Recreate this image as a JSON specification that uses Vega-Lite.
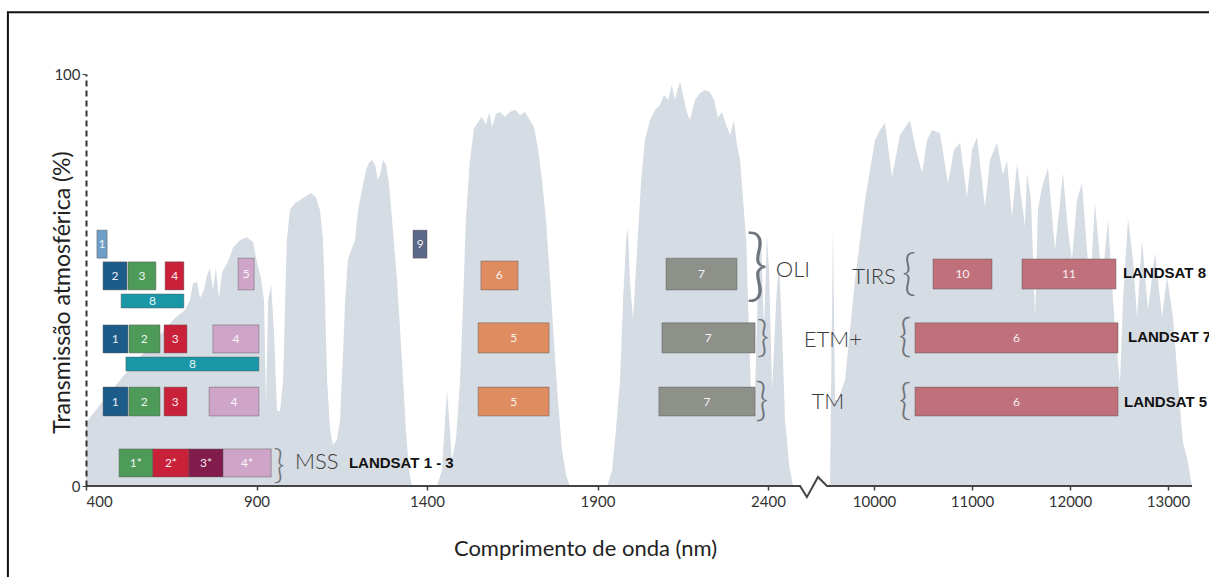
{
  "$schema": "https://vega.github.io/schema/vega-lite/v6.json",
  "width": 1111,
  "height": 412,
  "autosize": {"type": "none"},
  "padding": {"left": 86, "top": 74, "right": 12, "bottom": 91},
  "background": "white",
  "config": {"view": {"stroke": null}, "font": "Lato", "axis": {"grid": false}},
  "datasets": {
    "frame": [{"x0": 171, "x1": 13500, "y0": -25, "y1": 115}],
    "curve": [
      {"nm":400,"pct":15.3},{"nm":441,"pct":19.7},{"nm":500,"pct":25.7},{"nm":558,"pct":31.3},{"nm":617,"pct":36.7},{"nm":661,"pct":40.8},{"nm":690,"pct":42.7},{"nm":705,"pct":45.1},{"nm":714,"pct":49.3},{"nm":726,"pct":49.5},{"nm":734,"pct":45.6},{"nm":746,"pct":47.6},{"nm":755,"pct":51.2},{"nm":764,"pct":52.9},{"nm":772,"pct":47.6},{"nm":781,"pct":52.9},{"nm":790,"pct":45.6},{"nm":799,"pct":51.9},{"nm":816,"pct":54.4},{"nm":831,"pct":57.8},{"nm":852,"pct":59.7},{"nm":872,"pct":60.4},{"nm":890,"pct":59.2},{"nm":901,"pct":54.4},{"nm":913,"pct":50.5},{"nm":922,"pct":45.1},{"nm":928,"pct":19.7},{"nm":934,"pct":45.1},{"nm":943,"pct":48.8},{"nm":951,"pct":37.9},{"nm":960,"pct":18.4},{"nm":969,"pct":18.0},{"nm":978,"pct":25.7},{"nm":984,"pct":45.1},{"nm":989,"pct":59.7},{"nm":998,"pct":67.0},{"nm":1013,"pct":68.7},{"nm":1028,"pct":69.4},{"nm":1045,"pct":70.4},{"nm":1060,"pct":71.1},{"nm":1074,"pct":70.1},{"nm":1086,"pct":67.0},{"nm":1095,"pct":59.7},{"nm":1101,"pct":45.1},{"nm":1107,"pct":25.7},{"nm":1116,"pct":13.6},{"nm":1124,"pct":10.0},{"nm":1136,"pct":11.2},{"nm":1145,"pct":16.0},{"nm":1154,"pct":33.0},{"nm":1160,"pct":45.1},{"nm":1168,"pct":54.9},{"nm":1180,"pct":57.8},{"nm":1189,"pct":59.7},{"nm":1198,"pct":67.0},{"nm":1209,"pct":71.8},{"nm":1221,"pct":76.7},{"nm":1230,"pct":78.6},{"nm":1239,"pct":79.1},{"nm":1248,"pct":77.9},{"nm":1256,"pct":74.3},{"nm":1262,"pct":75.5},{"nm":1271,"pct":79.1},{"nm":1280,"pct":77.9},{"nm":1289,"pct":73.1},{"nm":1300,"pct":62.1},{"nm":1312,"pct":50.0},{"nm":1321,"pct":37.9},{"nm":1330,"pct":25.7},{"nm":1338,"pct":13.6},{"nm":1347,"pct":3.9},{"nm":1356,"pct":0},
      {"nm":1429,"pct":0},{"nm":1444,"pct":3.9},{"nm":1453,"pct":16.0},{"nm":1459,"pct":23.3},{"nm":1465,"pct":16.0},{"nm":1473,"pct":6.3},{"nm":1485,"pct":11.2},{"nm":1497,"pct":25.7},{"nm":1506,"pct":45.1},{"nm":1514,"pct":64.6},{"nm":1526,"pct":79.1},{"nm":1538,"pct":86.9},{"nm":1550,"pct":88.3},{"nm":1561,"pct":89.6},{"nm":1573,"pct":87.6},{"nm":1582,"pct":90.8},{"nm":1591,"pct":87.1},{"nm":1602,"pct":90.3},{"nm":1614,"pct":90.8},{"nm":1629,"pct":89.6},{"nm":1643,"pct":90.8},{"nm":1658,"pct":91.3},{"nm":1673,"pct":90.0},{"nm":1687,"pct":90.8},{"nm":1702,"pct":88.8},{"nm":1714,"pct":87.1},{"nm":1726,"pct":81.6},{"nm":1737,"pct":74.3},{"nm":1749,"pct":64.6},{"nm":1761,"pct":50.0},{"nm":1772,"pct":35.4},{"nm":1784,"pct":20.9},{"nm":1796,"pct":8.7},{"nm":1808,"pct":2.7},{"nm":1819,"pct":0},
      {"nm":1928,"pct":0},{"nm":1943,"pct":3.9},{"nm":1954,"pct":13.6},{"nm":1966,"pct":25.7},{"nm":1975,"pct":45.1},{"nm":1984,"pct":59.7},{"nm":1989,"pct":62.6},{"nm":1995,"pct":50.0},{"nm":2004,"pct":40.3},{"nm":2016,"pct":57.3},{"nm":2028,"pct":74.3},{"nm":2039,"pct":84.0},{"nm":2054,"pct":88.8},{"nm":2069,"pct":91.3},{"nm":2083,"pct":92.5},{"nm":2095,"pct":94.9},{"nm":2107,"pct":93.7},{"nm":2118,"pct":97.3},{"nm":2127,"pct":93.7},{"nm":2136,"pct":96.6},{"nm":2142,"pct":98.1},{"nm":2151,"pct":94.9},{"nm":2160,"pct":91.3},{"nm":2171,"pct":88.8},{"nm":2186,"pct":93.7},{"nm":2201,"pct":95.4},{"nm":2215,"pct":96.1},{"nm":2230,"pct":95.6},{"nm":2242,"pct":93.7},{"nm":2253,"pct":89.3},{"nm":2265,"pct":90.8},{"nm":2277,"pct":87.6},{"nm":2289,"pct":85.2},{"nm":2300,"pct":88.8},{"nm":2309,"pct":82.8},{"nm":2318,"pct":79.1},{"nm":2327,"pct":69.4},{"nm":2336,"pct":59.7},{"nm":2344,"pct":37.9},{"nm":2353,"pct":16.0},{"nm":2362,"pct":23.3},{"nm":2371,"pct":50.0},{"nm":2380,"pct":59.7},{"nm":2388,"pct":37.9},{"nm":2397,"pct":60.9},{"nm":2403,"pct":52.4},{"nm":2412,"pct":23.3},{"nm":2424,"pct":45.1},{"nm":2432,"pct":54.9},{"nm":2441,"pct":37.9},{"nm":2450,"pct":16.0},{"nm":2462,"pct":5.1},{"nm":2473,"pct":0},
      {"nm":9530,"pct":0},{"nm":9551,"pct":0.5},{"nm":9581,"pct":62.9},{"nm":9602,"pct":20.9},{"nm":9632,"pct":20.9},{"nm":9704,"pct":25.7},{"nm":9755,"pct":37.9},{"nm":9806,"pct":50.0},{"nm":9857,"pct":59.7},{"nm":9908,"pct":69.4},{"nm":9959,"pct":76.7},{"nm":10010,"pct":84.0},{"nm":10061,"pct":86.4},{"nm":10112,"pct":88.1},{"nm":10183,"pct":75.0},{"nm":10265,"pct":85.2},{"nm":10367,"pct":88.8},{"nm":10428,"pct":81.6},{"nm":10490,"pct":76.0},{"nm":10541,"pct":84.0},{"nm":10592,"pct":86.4},{"nm":10673,"pct":85.7},{"nm":10755,"pct":73.5},{"nm":10816,"pct":81.6},{"nm":10878,"pct":83.3},{"nm":10949,"pct":70.1},{"nm":11000,"pct":81.6},{"nm":11051,"pct":84.7},{"nm":11132,"pct":67.7},{"nm":11183,"pct":79.1},{"nm":11255,"pct":83.3},{"nm":11316,"pct":75.5},{"nm":11357,"pct":79.1},{"nm":11408,"pct":65.3},{"nm":11459,"pct":78.4},{"nm":11540,"pct":62.9},{"nm":11561,"pct":76.0},{"nm":11602,"pct":69.4},{"nm":11643,"pct":41.0},{"nm":11673,"pct":67.0},{"nm":11714,"pct":72.6},{"nm":11775,"pct":77.2},{"nm":11847,"pct":57.3},{"nm":11928,"pct":76.0},{"nm":11979,"pct":62.1},{"nm":12020,"pct":54.9},{"nm":12071,"pct":69.4},{"nm":12122,"pct":73.5},{"nm":12204,"pct":47.6},{"nm":12255,"pct":68.7},{"nm":12326,"pct":49.3},{"nm":12388,"pct":64.6},{"nm":12459,"pct":37.9},{"nm":12510,"pct":25.0},{"nm":12541,"pct":45.1},{"nm":12592,"pct":65.0},{"nm":12643,"pct":54.9},{"nm":12684,"pct":41.0},{"nm":12735,"pct":59.7},{"nm":12796,"pct":42.7},{"nm":12867,"pct":56.6},{"nm":12939,"pct":41.0},{"nm":12990,"pct":50.7},{"nm":13051,"pct":41.0},{"nm":13102,"pct":25.0},{"nm":13153,"pct":10.4},{"nm":13194,"pct":7.0},{"nm":13245,"pct":0}
    ],
    "axisline": [
      {"nm":400,"pct":0},{"nm":2494,"pct":0},{"nm":2514,"pct":-2.7},{"nm":9428,"pct":2.2},{"nm":9520,"pct":0},{"nm":13245,"pct":0}
    ],
    "bands": [
      {"s":"OLI","b":"1","x0":432,"x1":462,"y0":55.3,"y1":62.1,"xm":447,"ym":58.7,"k":"coastal"},
      {"s":"OLI","b":"2","x0":450,"x1":520,"y0":47.6,"y1":54.4,"xm":485,"ym":51.0,"k":"blue"},
      {"s":"OLI","b":"3","x0":523,"x1":605,"y0":47.6,"y1":54.4,"xm":564,"ym":51.0,"k":"green"},
      {"s":"OLI","b":"4","x0":632,"x1":687,"y0":47.6,"y1":54.4,"xm":660,"ym":51.0,"k":"red"},
      {"s":"OLI","b":"5","x0":846,"x1":893,"y0":47.6,"y1":55.3,"xm":870,"ym":51.4,"k":"nir"},
      {"s":"OLI","b":"6","x0":1558,"x1":1667,"y0":47.6,"y1":54.6,"xm":1612,"ym":51.1,"k":"swir1"},
      {"s":"OLI","b":"7","x0":2101,"x1":2309,"y0":47.6,"y1":55.3,"xm":2205,"ym":51.4,"k":"swir2"},
      {"s":"OLI","b":"9","x0":1359,"x1":1400,"y0":55.3,"y1":62.1,"xm":1380,"ym":58.7,"k":"cirrus"},
      {"s":"OLI","b":"8","x0":503,"x1":687,"y0":43.2,"y1":46.6,"xm":595,"ym":44.9,"k":"pan"},
      {"s":"TIRS","b":"10","x0":10602,"x1":11204,"y0":47.8,"y1":55.1,"xm":10903,"ym":51.4,"k":"tir"},
      {"s":"TIRS","b":"11","x0":11510,"x1":12469,"y0":47.8,"y1":55.1,"xm":11990,"ym":51.4,"k":"tir"},
      {"s":"ETM+","b":"1","x0":450,"x1":523,"y0":32.3,"y1":39.1,"xm":486,"ym":35.7,"k":"blue"},
      {"s":"ETM+","b":"2","x0":526,"x1":617,"y0":32.3,"y1":39.1,"xm":571,"ym":35.7,"k":"green"},
      {"s":"ETM+","b":"3","x0":629,"x1":696,"y0":32.3,"y1":39.1,"xm":662,"ym":35.7,"k":"red"},
      {"s":"ETM+","b":"4","x0":772,"x1":907,"y0":32.3,"y1":39.1,"xm":840,"ym":35.7,"k":"nir"},
      {"s":"ETM+","b":"5","x0":1550,"x1":1758,"y0":32.3,"y1":39.6,"xm":1654,"ym":35.9,"k":"swir1"},
      {"s":"ETM+","b":"7","x0":2089,"x1":2362,"y0":32.3,"y1":39.6,"xm":2225,"ym":35.9,"k":"swir2"},
      {"s":"ETM+","b":"6","x0":10418,"x1":12490,"y0":32.3,"y1":39.6,"xm":11454,"ym":35.9,"k":"tir"},
      {"s":"ETM+","b":"8","x0":517,"x1":907,"y0":27.9,"y1":31.3,"xm":712,"ym":29.6,"k":"pan"},
      {"s":"TM","b":"1","x0":450,"x1":523,"y0":17.0,"y1":24.0,"xm":486,"ym":20.5,"k":"blue"},
      {"s":"TM","b":"2","x0":526,"x1":617,"y0":17.0,"y1":24.0,"xm":571,"ym":20.5,"k":"green"},
      {"s":"TM","b":"3","x0":629,"x1":696,"y0":17.0,"y1":24.0,"xm":662,"ym":20.5,"k":"red"},
      {"s":"TM","b":"4","x0":761,"x1":907,"y0":17.0,"y1":24.0,"xm":834,"ym":20.5,"k":"nir"},
      {"s":"TM","b":"5","x0":1550,"x1":1758,"y0":17.0,"y1":24.0,"xm":1654,"ym":20.5,"k":"swir1"},
      {"s":"TM","b":"7","x0":2080,"x1":2362,"y0":17.0,"y1":24.0,"xm":2221,"ym":20.5,"k":"swir2"},
      {"s":"TM","b":"6","x0":10418,"x1":12490,"y0":17.0,"y1":24.0,"xm":11454,"ym":20.5,"k":"tir"},
      {"s":"MSS","b":"1*","x0":497,"x1":596,"y0":2.2,"y1":9.0,"xm":546,"ym":5.6,"k":"green"},
      {"s":"MSS","b":"2*","x0":596,"x1":702,"y0":2.2,"y1":9.0,"xm":649,"ym":5.6,"k":"red"},
      {"s":"MSS","b":"3*","x0":702,"x1":802,"y0":2.2,"y1":9.0,"xm":752,"ym":5.6,"k":"maroon"},
      {"s":"MSS","b":"4*","x0":802,"x1":943,"y0":2.2,"y1":9.0,"xm":872,"ym":5.6,"k":"nir"}
    ],
    "braces": [
      {"t":"}","x":2368,"y":52.8,"span":18.7},
      {"t":"}","x":2385,"y":35.8,"span":10.4},
      {"t":"}","x":2382,"y":20.4,"span":10.7},
      {"t":"}","x":966,"y":4.9,"span":9.2},
      {"t":"{","x":10357,"y":51.5,"span":11.7},
      {"t":"{","x":10316,"y":35.9,"span":10.7},
      {"t":"{","x":10316,"y":20.5,"span":10.4}
    ],
    "sensors": [
      {"t":"OLI","x":2473,"y":52.4},
      {"t":"ETM+","x":9581,"y":35.4},
      {"t":"TM","x":9530,"y":20.4},
      {"t":"TIRS","x":10000,"y":50.7},
      {"t":"MSS","x":1077,"y":5.8}
    ],
    "landsat": [
      {"t":"LANDSAT 1 - 3","x":1171,"y":5.6},
      {"t":"LANDSAT 8","x":12540,"y":51.7},
      {"t":"LANDSAT 7","x":12592,"y":36.2},
      {"t":"LANDSAT 5","x":12551,"y":20.4}
    ]
  },
  "layer": [
    {
      "data": {"name": "curve"},
      "mark": {"type": "area", "color": "#d6dce3", "interpolate": "linear"},
      "encoding": {
        "x": {"field": "nm", "type": "quantitative",
          "scale": {"domain": [400, 2529, 9367, 13300], "range": [0, 726, 726, 1111.4], "nice": false, "zero": false},
          "axis": {"values": [400, 900, 1400, 1900, 2400, 10000, 11000, 12000, 13000], "format": "d", "domain": false,
            "ticks": true, "tickSize": 4, "tickColor": "#444", "tickWidth": 1.5, "labelPadding": 4,
            "labelFontSize": 15, "labelColor": "#333", "labelFont": "Lato", "zindex": 1,
            "title": "Comprimento de onda (nm)", "titleFontSize": 22, "titleFontWeight": "normal", "titleColor": "#222", "titleFont": "Lato",
            "titleX": 499, "titleY": 62, "titleBaseline": "middle", "titleAlign": "center"}},
        "y": {"field": "pct", "type": "quantitative",
          "scale": {"domain": [0, 100], "nice": false, "zero": false},
          "axis": {"values": [0, 100], "domain": true, "domainDash": [6, 4], "domainColor": "#333", "domainWidth": 2,
            "tickSize": 4, "tickColor": "#444", "labelFontSize": 15, "labelPadding": 2, "labelColor": "#333", "labelFont": "Lato", "zindex": 1,
            "title": "Transmissão atmosférica (%)", "titleFontSize": 23, "titleFontWeight": "normal", "titleColor": "#222", "titleFont": "Lato",
            "titleX": -24, "titleY": 218, "titleAngle": 270, "titleBaseline": "middle", "titleAlign": "center"}}
      }
    },
    {
      "data": {"name": "frame"},
      "mark": {"type": "rect", "fill": null, "stroke": "#111", "strokeWidth": 2, "clip": false},
      "encoding": {
        "x": {"field": "x0", "type": "quantitative", "scale": {"domain": [400, 2529, 9367, 13300], "range": [0, 726, 726, 1111.4], "nice": false, "zero": false}},
        "x2": {"field": "x1"},
        "y": {"field": "y0", "type": "quantitative", "scale": {"domain": [0, 100], "nice": false, "zero": false}},
        "y2": {"field": "y1"}
      }
    },
    {
      "data": {"name": "axisline"},
      "mark": {"type": "line", "color": "#444", "strokeWidth": 2, "clip": false},
      "encoding": {
        "x": {"field": "nm", "type": "quantitative"},
        "y": {"field": "pct", "type": "quantitative"}
      }
    },
    {
      "data": {"name": "bands"},
      "mark": {"type": "rect", "stroke": "#555", "strokeWidth": 0.8, "strokeOpacity": 0.55},
      "encoding": {
        "x": {"field": "x0", "type": "quantitative"},
        "x2": {"field": "x1"},
        "y": {"field": "y0", "type": "quantitative"},
        "y2": {"field": "y1"},
        "color": {"field": "k", "type": "nominal", "legend": null,
          "scale": {"domain": ["coastal", "blue", "green", "red", "nir", "swir1", "swir2", "cirrus", "pan", "tir", "maroon"],
                    "range": ["#6e9dc5", "#1d5b89", "#4d9a59", "#c9213a", "#cea5c9", "#de8c60", "#8e908a", "#5c6888", "#1a97a6", "#c0707a", "#821c4c"]}}
      }
    },
    {
      "data": {"name": "bands"},
      "mark": {"type": "text", "color": "white", "opacity": 0.9, "fontSize": 12, "font": "Lato", "align": "center", "baseline": "middle"},
      "encoding": {
        "x": {"field": "xm", "type": "quantitative"},
        "y": {"field": "ym", "type": "quantitative"},
        "text": {"field": "b"}
      }
    },
    {
      "data": {"name": "braces"},
      "mark": {"type": "text", "color": "#6f757c", "font": "Lato", "fontWeight": 300, "align": "center", "baseline": "middle"},
      "encoding": {
        "x": {"field": "x", "type": "quantitative"},
        "y": {"field": "y", "type": "quantitative"},
        "size": {"field": "span", "type": "quantitative", "legend": null, "scale": {"type": "linear", "domain": [0, 20], "range": [0, 84], "zero": true}},
        "text": {"field": "t"}
      }
    },
    {
      "data": {"name": "sensors"},
      "mark": {"type": "text", "color": "#3a3a3a", "font": "Lato", "fontWeight": 300, "fontSize": 22, "align": "center", "baseline": "middle"},
      "encoding": {
        "x": {"field": "x", "type": "quantitative"},
        "y": {"field": "y", "type": "quantitative"},
        "text": {"field": "t"}
      }
    },
    {
      "data": {"name": "landsat"},
      "mark": {"type": "text", "color": "#111", "font": "Liberation Sans", "fontWeight": "bold", "fontSize": 15, "align": "left", "baseline": "middle", "clip": false},
      "encoding": {
        "x": {"field": "x", "type": "quantitative"},
        "y": {"field": "y", "type": "quantitative"},
        "text": {"field": "t"}
      }
    }
  ]
}
